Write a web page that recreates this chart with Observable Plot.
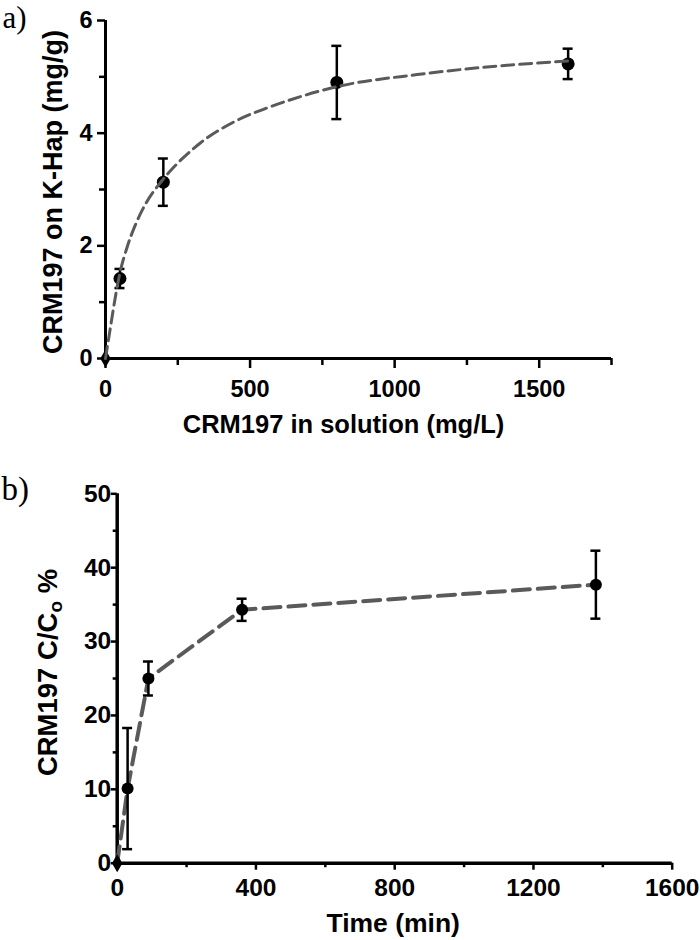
<!DOCTYPE html>
<html>
<head>
<meta charset="utf-8">
<script src="https://cdn.jsdelivr.net/npm/d3@7"></script>
<script src="https://cdn.jsdelivr.net/npm/@observablehq/plot@0.6"></script>
<style>
  body { margin: 0; background: #fff; }
  #root { position: relative; width: 700px; height: 940px; background: #fff; overflow: hidden; }
  #root svg { position: absolute; left: 0; }
</style>
</head>
<body>
<div id="root"></div>
<script>
// ---------- Panel a) : adsorption isotherm ----------
const isoConc = [0, 50, 200, 800, 1600];          // CRM197 in solution (mg/L)
const isoLoad = [0, 1.42, 3.13, 4.90, 5.23];      // CRM197 on K-Hap (mg/g)
const isoErr  = [0, 0.17, 0.42, 0.65, 0.27];
const fitConc = [0, 17, 35, 50, 75, 104, 138, 196, 248, 294, 329, 444, 560, 675, 796, 1078, 1309, 1600];
const fitLoad = [0, 0.55, 1.12, 1.52, 1.98, 2.38, 2.74, 3.16, 3.46, 3.68, 3.83, 4.20, 4.45, 4.65, 4.82, 5.04, 5.17, 5.28];
const isoXTicks = [0, 500, 1000, 1500];
const isoXMinor = [250, 750, 1250, 1750];
const isoYTicks = [0, 2, 4, 6];
const isoYMinor = [1, 3, 5];
const isoXLabel = "CRM197 in solution (mg/L)";
const isoYLabel = "CRM197 on K-Hap (mg/g)";

// ---------- Panel b) : kinetics ----------
const kinTime = [0, 30, 90, 360, 1380];           // Time (min)
const kinPct  = [0, 10.1, 25.0, 34.3, 37.7];      // C/Co %
const kinErr  = [0, 8.2, 2.3, 1.5, 4.6];
const kinXTicks = [0, 400, 800, 1200, 1600];
const kinXMinor = [200, 600, 1000, 1400];
const kinYTicks = [0, 10, 20, 30, 40, 50];
const kinYMinor = [5, 15, 25, 35, 45];
const kinXLabel = "Time (min)";
const kinYLabel = "CRM197 C/Co %";

const sans = "'Liberation Sans', Arial, Helvetica, sans-serif";
const serif = "'Liberation Serif', 'Times New Roman', serif";

const isoRows = isoConc.map((x, i) => ({x, y: isoLoad[i], lo: isoLoad[i] - isoErr[i], hi: isoLoad[i] + isoErr[i], e: isoErr[i]}));
const fitRows = fitConc.map((x, i) => ({x, y: fitLoad[i]}));
const kinRows = kinTime.map((x, i) => ({x, y: kinPct[i], lo: kinPct[i] - kinErr[i], hi: kinPct[i] + kinErr[i], e: kinErr[i]}));

const isoErrRows = isoRows.filter(d => d.e > 0);
const kinErrRows = kinRows.filter(d => d.e > 0);

const chartA = Plot.plot({
  width: 700, height: 445,
  marginLeft: 105, marginRight: 89, marginTop: 20, marginBottom: 87,
  x: {domain: [0, 1750]},
  y: {domain: [0, 6]},
  style: {fontFamily: sans, fontSize: "23.5px", fontWeight: "bold", color: "#000", background: "#fff"},
  marks: [
    Plot.axisX({ticks: isoXTicks, tickSize: 10, tickPadding: 12, tickFormat: "d", strokeWidth: 2.5, fontSize: 23.5, label: null}),
    Plot.axisX({ticks: isoXMinor, tickSize: 7, tickFormat: () => "", strokeWidth: 2.5, label: null}),
    Plot.axisY({ticks: isoYTicks, tickSize: 8, tickPadding: 5, tickFormat: "d", strokeWidth: 2.5, fontSize: 23.5, label: null}),
    Plot.axisY({ticks: isoYMinor, tickSize: 6, tickFormat: () => "", strokeWidth: 2.5, label: null}),
    Plot.ruleY([0], {strokeWidth: 3, insetLeft: -1.5}),
    Plot.ruleX([0], {strokeWidth: 3, insetBottom: -1.5}),
    Plot.ruleX(isoErrRows, {x: "x", y1: "lo", y2: "hi", strokeWidth: 2.5}),
    Plot.ruleY(isoErrRows, {x1: "x", x2: "x", y: "hi", insetLeft: -5, insetRight: -5, strokeWidth: 2.5}),
    Plot.ruleY(isoErrRows, {x1: "x", x2: "x", y: "lo", insetLeft: -5, insetRight: -5, strokeWidth: 2.5}),
    Plot.dot(isoRows.filter(d => d.x > 0), {x: "x", y: "y", r: 6.5, fill: "#000", stroke: "none"}),
    Plot.dot(isoRows.filter(d => d.x === 0), {x: "x", y: "y", r: 5.5, symbol: "diamond", fill: "#000", stroke: "none"}),
    Plot.line(fitRows, {x: "x", y: "y", stroke: "#5a5a5a", strokeWidth: 3, strokeDasharray: "12,6", curve: "monotone-x"}),
    Plot.text([isoXLabel], {text: d => d, frameAnchor: "bottom", textAnchor: "middle", dx: -15, dy: 56, lineAnchor: "top", fontSize: 25.5, fontWeight: "bold"}),
    Plot.text([isoYLabel], {text: d => d, frameAnchor: "left", textAnchor: "middle", lineAnchor: "middle", rotate: -90, dx: -52, dy: 2.5, fontSize: 27, fontWeight: "bold"}),
    Plot.text(["a)"], {text: d => d, frameAnchor: "top-left", textAnchor: "start", lineAnchor: "top", dx: -103, dy: -14.5, fontSize: 31, fontWeight: "normal", fontFamily: serif})
  ]
});

const chartB = Plot.plot({
  width: 700, height: 495,
  marginLeft: 116.7, marginRight: 28.3, marginTop: 48.3, marginBottom: 77.3,
  x: {domain: [0, 1600]},
  y: {domain: [0, 50]},
  style: {fontFamily: sans, fontSize: "24.5px", fontWeight: "bold", color: "#000", background: "#fff"},
  marks: [
    Plot.axisX({ticks: kinXTicks, tickSize: 7, tickPadding: 8, tickFormat: "d", strokeWidth: 2.5, fontSize: 24.5, label: null}),
    Plot.axisX({ticks: kinXMinor, tickSize: 4.5, tickFormat: () => "", strokeWidth: 2.5, label: null}),
    Plot.axisY({ticks: kinYTicks, tickSize: 6, tickPadding: 0, tickFormat: "d", strokeWidth: 2.5, fontSize: 24.5, label: null}),
    Plot.axisY({ticks: kinYMinor, tickSize: 4, tickFormat: () => "", strokeWidth: 2.5, label: null}),
    Plot.ruleY([0], {strokeWidth: 3.5, insetLeft: -1.75}),
    Plot.ruleX([0], {strokeWidth: 3.5, insetBottom: -1.75}),
    Plot.line(kinRows, {x: "x", y: "y", stroke: "#5a5a5a", strokeWidth: 4, strokeDasharray: "17,8"}),
    Plot.ruleX(kinErrRows, {x: "x", y1: "lo", y2: "hi", strokeWidth: 2.5}),
    Plot.ruleY(kinErrRows, {x1: "x", x2: "x", y: "hi", insetLeft: -5, insetRight: -5, strokeWidth: 2.5}),
    Plot.ruleY(kinErrRows, {x1: "x", x2: "x", y: "lo", insetLeft: -5, insetRight: -5, strokeWidth: 2.5}),
    Plot.dot(kinRows.filter(d => d.x > 0), {x: "x", y: "y", r: 6, fill: "#000", stroke: "none"}),
    Plot.dot(kinRows.filter(d => d.x === 0), {x: "x", y: "y", r: 5.5, symbol: "diamond", fill: "#000", stroke: "none"}),
    Plot.text([kinXLabel], {text: d => d, frameAnchor: "bottom", textAnchor: "middle", dx: -1.5, dy: 50, lineAnchor: "top", fontSize: 26.5, fontWeight: "bold"}),
    Plot.text([kinYLabel], {text: d => d, frameAnchor: "left", textAnchor: "middle", lineAnchor: "middle", rotate: -90, dx: -69.5, dy: -6, fontSize: 27.5, fontWeight: "bold"}),
    Plot.text(["b)"], {text: d => d, frameAnchor: "top-left", textAnchor: "start", lineAnchor: "top", dx: -115.7, dy: -17.5, fontSize: 33, fontWeight: "normal", fontFamily: serif})
  ]
});

chartA.style.top = "0px";
chartB.style.top = "445px";
const root = document.getElementById("root");
root.appendChild(chartA);
root.appendChild(chartB);

// subscript "o" in C/Co
chartB.querySelectorAll("text").forEach(t => {
  if (t.textContent === kinYLabel) {
    t.textContent = "";
    const ns = "http://www.w3.org/2000/svg";
    const a = document.createElementNS(ns, "tspan"); a.textContent = "CRM197 C/C";
    const b = document.createElementNS(ns, "tspan"); b.textContent = "o";
    b.setAttribute("dy", "5"); b.setAttribute("font-size", "19");
    const c = document.createElementNS(ns, "tspan"); c.textContent = " %";
    c.setAttribute("dy", "-5"); c.setAttribute("font-size", "27.5");
    t.appendChild(a); t.appendChild(b); t.appendChild(c);
  }
});
</script>
</body>
</html>
